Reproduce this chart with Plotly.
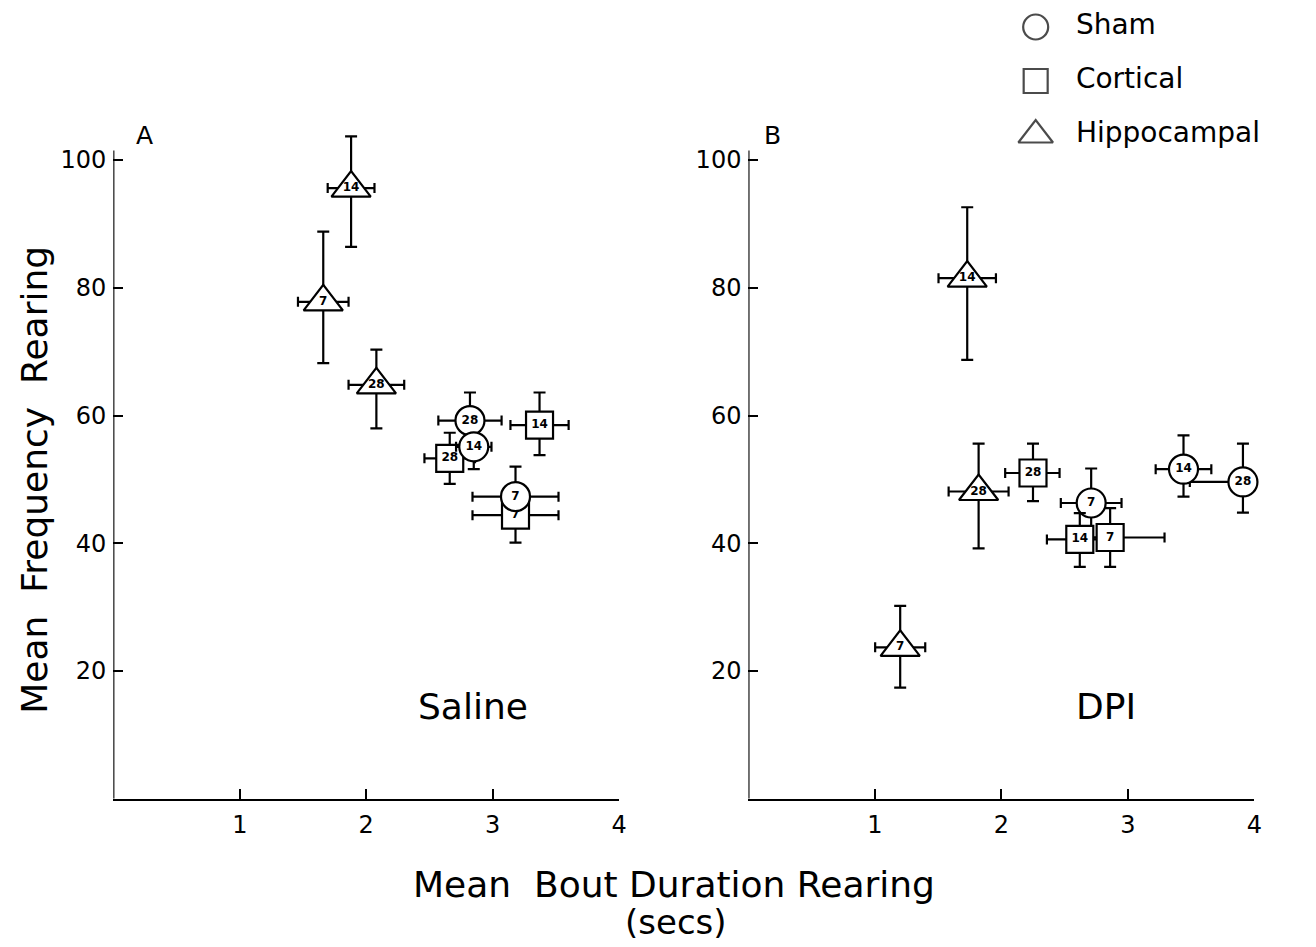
import plotly.graph_objects as go

# ---------------- data ----------------
groups = ["Sham", "Cortical", "Hippocampal"]
symbols = {"Sham": "circle", "Cortical": "square", "Hippocampal": "triangle-up"}
sizes = {"Sham": 29, "Cortical": 27, "Hippocampal": 34}

# Panel A : Saline
A_sham_days = ["28", "14", "7"]
A_sham_x = [2.82, 2.85, 3.18]
A_sham_y = [59.2, 55.1, 47.3]
A_sham_xerr = [0.25, 0.14, 0.34]
A_sham_yerr_up = [4.4, 3.5, 4.7]
A_sham_yerr_dn = [4.4, 3.5, 0.0]   # lower bar of day 7 not visible (hidden)

A_cort_days = ["28", "14", "7"]
A_cort_x = [2.66, 3.37, 3.18]
A_cort_y = [53.3, 58.5, 44.4]
A_cort_xerr = [0.20, 0.23, 0.34]
A_cort_yerr_up = [4.0, 5.1, 4.3]
A_cort_yerr_dn = [4.0, 4.7, 4.3]

A_hipp_days = ["14", "7", "28"]
A_hipp_x = [1.88, 1.66, 2.08]
A_hipp_y = [95.6, 77.8, 64.8]
A_hipp_xerr = [0.185, 0.20, 0.22]
A_hipp_yerr_up = [8.1, 11.0, 5.5]
A_hipp_yerr_dn = [9.2, 9.6, 6.8]

# Panel B : DPI
B_sham_days = ["14", "28", "7"]
B_sham_x = [3.44, 3.91, 2.71]
B_sham_y = [51.6, 49.6, 46.3]
B_sham_xerr_r = [0.22, 0.47, 0.24]
B_sham_xerr_l = [0.22, 0.42, 0.24]
B_sham_yerr_up = [5.3, 6.0, 5.4]
B_sham_yerr_dn = [4.3, 4.8, 5.4]

B_cort_days = ["28", "14", "7"]
B_cort_x = [2.25, 2.62, 2.86]
B_cort_y = [51.0, 40.6, 40.9]
B_cort_xerr_r = [0.21, 0.25, 0.43]
B_cort_xerr_l = [0.22, 0.26, 0.20]
B_cort_yerr_up = [4.6, 4.1, 4.6]
B_cort_yerr_dn = [4.4, 4.3, 4.6]

B_hipp_days = ["14", "28", "7"]
B_hipp_x = [1.73, 1.82, 1.20]
B_hipp_y = [81.5, 48.1, 23.7]
B_hipp_xerr = [0.227, 0.237, 0.198]
B_hipp_yerr_up = [11.1, 7.5, 6.5]
B_hipp_yerr_dn = [12.8, 8.9, 6.3]

x_ticks = [1, 2, 3, 4]
y_ticks = [20, 40, 60, 80, 100]
y_axis_top = 101.5

FONT = "DejaVu Sans"

fig = go.Figure()


def add_group(name, days, x, y, xr, xl, yu, yd, xa, ya):
    fig.add_trace(go.Scatter(
        x=x, y=y, mode="markers+text",
        text=["<b>%s</b>" % d for d in days],
        textposition="middle center",
        textfont=dict(family=FONT, size=12, color="black"),
        marker=dict(symbol=symbols[name], size=sizes[name], color="white",
                    line=dict(color="black", width=2.2)),
        error_x=dict(type="data", symmetric=False, array=xr, arrayminus=xl,
                     color="black", thickness=2.2, width=5),
        error_y=dict(type="data", symmetric=False, array=yu, arrayminus=yd,
                     color="black", thickness=2.2, width=6),
        xaxis=xa, yaxis=ya, showlegend=False, cliponaxis=False,
    ))


# Panel A
add_group("Hippocampal", A_hipp_days, A_hipp_x, A_hipp_y, A_hipp_xerr, A_hipp_xerr,
          A_hipp_yerr_up, A_hipp_yerr_dn, "x", "y")
add_group("Cortical", A_cort_days, A_cort_x, A_cort_y, A_cort_xerr, A_cort_xerr,
          A_cort_yerr_up, A_cort_yerr_dn, "x", "y")
add_group("Sham", A_sham_days, A_sham_x, A_sham_y, A_sham_xerr, A_sham_xerr,
          A_sham_yerr_up, A_sham_yerr_dn, "x", "y")

# Panel B
add_group("Hippocampal", B_hipp_days, B_hipp_x, B_hipp_y, B_hipp_xerr, B_hipp_xerr,
          B_hipp_yerr_up, B_hipp_yerr_dn, "x2", "y2")
add_group("Sham", B_sham_days, B_sham_x, B_sham_y, B_sham_xerr_r, B_sham_xerr_l,
          B_sham_yerr_up, B_sham_yerr_dn, "x2", "y2")
add_group("Cortical", B_cort_days, B_cort_x, B_cort_y, B_cort_xerr_r, B_cort_xerr_l,
          B_cort_yerr_up, B_cort_yerr_dn, "x2", "y2")

# Custom legend (top right)
legend_idx = list(range(len(groups)))
fig.add_trace(go.Scatter(
    x=[0] * len(groups), y=legend_idx, mode="markers",
    marker=dict(symbol=[symbols[g] for g in groups], size=[25, 24, 30],
                color="white", line=dict(color="black", width=2.2)),
    xaxis="x3", yaxis="y3", showlegend=False, cliponaxis=False,
))
fig.add_trace(go.Scatter(
    x=[1.35] * len(groups), y=legend_idx, mode="text", text=groups,
    textposition="middle right",
    textfont=dict(family=FONT, size=28, color="black"),
    xaxis="x3", yaxis="y3", showlegend=False, cliponaxis=False,
))

W, H = 1316, 947
PX_PER_Y = 6.3875
Y0_PX = 798.75
Y_RANGE_TOP = 106
y_dom = [(H - Y0_PX) / H, (H - (Y0_PX - Y_RANGE_TOP * PX_PER_Y)) / H]

axis_common = dict(
    ticks="inside", ticklen=10, tickwidth=2, tickcolor="black",
    showgrid=False, zeroline=False,
    tickfont=dict(family=FONT, size=24, color="black"),
)

# vertical axis lines, stopping just above 100 as in the reference
shapes = []
for xr, yr in (("x", "y"), ("x2", "y2")):
    shapes.append(dict(type="line", xref=xr, yref=yr, x0=0, x1=0, y0=0,
                       y1=y_axis_top, line=dict(color="black", width=2.2)))

ann_font = dict(family=FONT, size=36, color="black")
fig.update_layout(
    width=W, height=H,
    margin=dict(l=0, r=0, t=0, b=0),
    paper_bgcolor="white", plot_bgcolor="white",
    font=dict(family=FONT, color="black"),
    shapes=shapes,
    xaxis=dict(domain=[114 / W, 623 / W], range=[0, 4], tickvals=x_ticks,
               anchor="y", ticklabelstandoff=3, showline=True,
               linecolor="black", linewidth=2.2, **axis_common),
    yaxis=dict(domain=y_dom, range=[0, Y_RANGE_TOP], tickvals=y_ticks,
               anchor="x", ticklabelstandoff=6, showline=False, **axis_common),
    xaxis2=dict(domain=[753 / W, 1262 / W], range=[0, 4], tickvals=x_ticks,
                anchor="y2", ticklabelstandoff=3, showline=True,
                linecolor="black", linewidth=2.2, **axis_common),
    yaxis2=dict(domain=y_dom, range=[0, Y_RANGE_TOP], tickvals=y_ticks,
                anchor="x2", ticklabelstandoff=6, showline=False, **axis_common),
    xaxis3=dict(domain=[1012 / W, 1.0], range=[-1, 9.13], visible=False),
    yaxis3=dict(domain=[1 - 162 / H, 1.0], range=[2.5, -0.5], visible=False,
                anchor="x3"),
    annotations=[
        dict(text="A", x=145 / W, y=1 - 135 / H, xref="paper", yref="paper",
             xanchor="center", yanchor="middle", showarrow=False,
             font=dict(family=FONT, size=25)),
        dict(text="B", x=777 / W, y=1 - 135 / H, xref="paper", yref="paper",
             xanchor="center", yanchor="middle", showarrow=False,
             font=dict(family=FONT, size=25)),
        dict(text="Saline", x=476 / W, y=1 - 706 / H, xref="paper", yref="paper",
             xanchor="center", yanchor="middle", showarrow=False, font=ann_font),
        dict(text="DPI", x=1113 / W, y=1 - 706 / H, xref="paper", yref="paper",
             xanchor="center", yanchor="middle", showarrow=False, font=ann_font),
        dict(text="Mean  Bout Duration Rearing", x=678 / W, y=1 - 884 / H,
             xref="paper", yref="paper", xanchor="center", yanchor="middle",
             showarrow=False, font=ann_font),
        dict(text="(secs)", x=680 / W, y=1 - 922 / H,
             xref="paper", yref="paper", xanchor="center", yanchor="middle",
             showarrow=False, font=dict(family=FONT, size=34, color="black")),
        dict(text="Mean  Frequency  Rearing", x=35 / W, y=1 - 480 / H,
             xref="paper", yref="paper", xanchor="center", yanchor="middle",
             showarrow=False, textangle=-90, font=ann_font),
    ],
)

fig.write_html("out.html")
